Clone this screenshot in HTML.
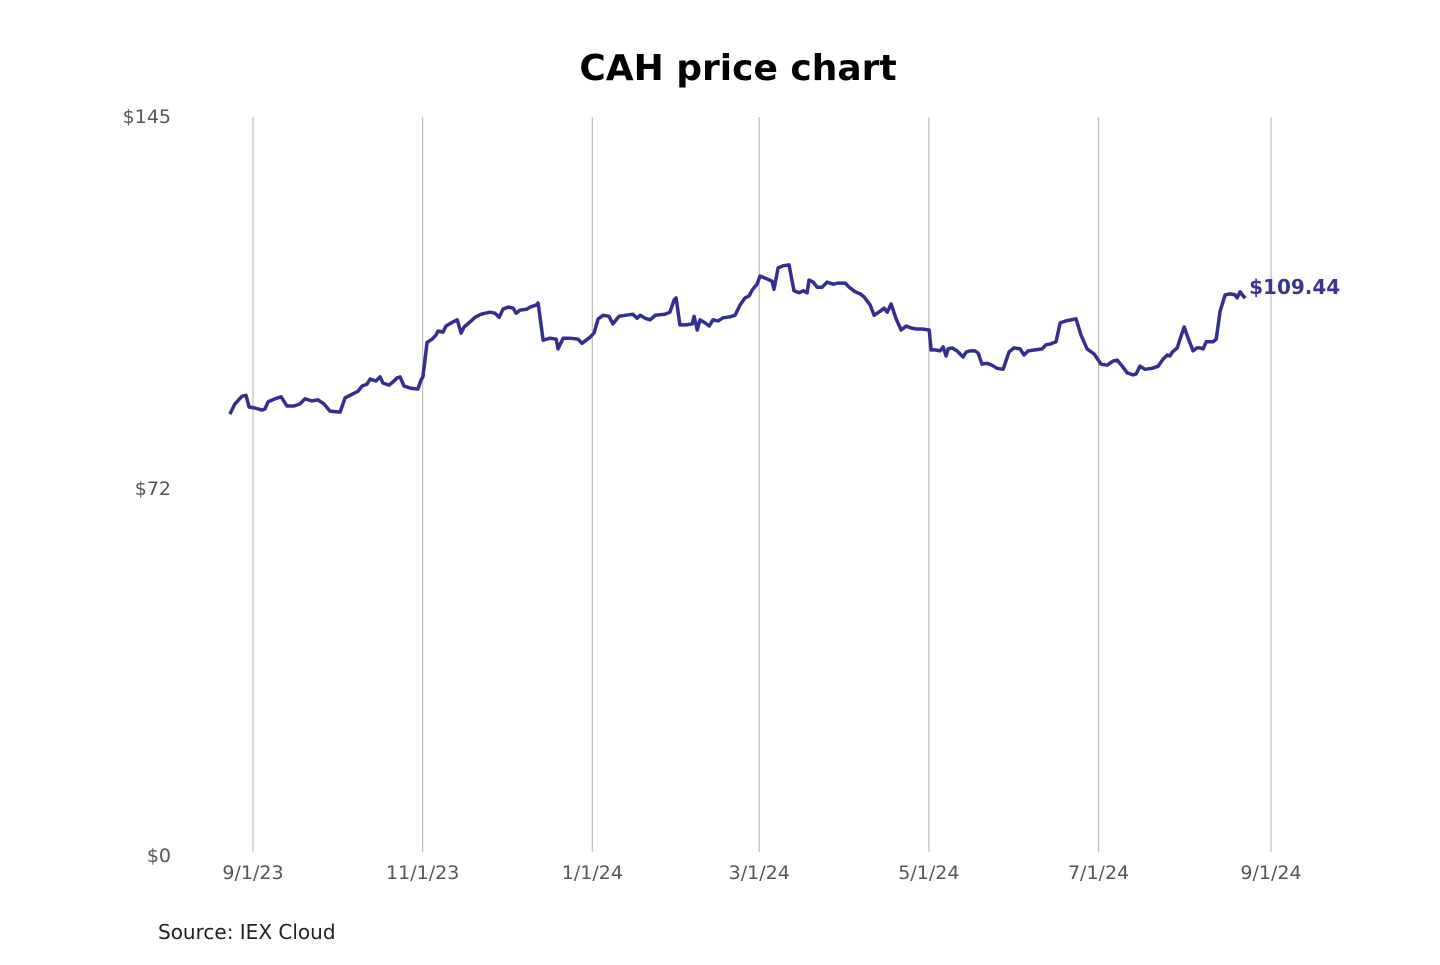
<!DOCTYPE html>
<html><head><meta charset="utf-8"><style>
body{margin:0;background:#fff;font-family:"Liberation Sans","DejaVu Sans",sans-serif;}
svg text{font-family:"DejaVu Sans","Liberation Sans",sans-serif;}
</style></head><body>
<svg id="chart" width="1440" height="960" xmlns="http://www.w3.org/2000/svg">
<text x="738" y="80" text-anchor="middle" font-size="36" font-weight="bold" fill="#000">CAH price chart</text>
<g id="grid"></g>
<g id="yaxis"></g>
<g id="xaxis"></g>
<path id="line" fill="none" stroke="#332f91" stroke-width="3.5" stroke-linejoin="round"/>
<text id="lastlabel" font-size="20" font-weight="bold" fill="#3a358f"></text>
<text x="158" y="939" font-size="20" fill="#222">Source: IEX Cloud</text>
</svg>
<script>
const days=[-8.3,-6.5,-4,-2.5,-1.4,0.7,3.2,4.3,5.4,7.9,10.1,12.2,14.7,16.9,18.7,21.2,23.4,25.5,27.7,31.3,33.1,35.6,37.8,39.2,41,42.1,44.2,45.7,46.7,48.9,50.3,51.8,52.9,54.3,56.5,59.3,60.4,61.1,62.6,64.4,65.8,66.5,68.3,69.4,71.9,73.4,74.8,75.9,78,79.8,82,85.2,87,88.5,89.9,91.7,93.5,94.6,96,98.5,99.6,101.8,102.5,104.3,106.8,109,109.7,111.5,114,116.9,118.3,121.2,122.6,124.1,125.9,128,129.4,131.6,133.8,136.6,138.1,139.2,141,142.8,144.6,148.2,149.9,151.4,152.1,153.5,155.7,157.9,158.6,159.7,160.7,162.5,164,165.4,167.2,169,171.5,173.3,175.1,176.9,178.4,179.4,181.2,182.3,184.1,186.6,187.3,188.8,190.6,192.7,194.5,196.3,197.8,199.2,199.9,201.4,202.8,204.6,206.4,208.6,210.4,212.9,214.3,216.5,218.3,219.7,221.9,223.3,225.5,226.9,228,229.4,231.2,233,234.8,236.6,238.4,240.6,243.1,243.8,245.2,247,248.1,249.2,249.9,251.3,253.1,255.3,256.4,257.8,259.6,260.7,262.1,263.9,265.7,267.5,269.7,271.8,273.6,275.8,277.2,278.7,281.2,283.7,285.1,286.9,288.7,290.2,292.3,295.9,297.7,299.9,302.4,304.9,307.1,309.2,310.7,312.5,314.3,316.4,317.5,318.9,320.7,323.3,325.4,327.2,328.7,329.7,330.5,332.3,333.3,334.8,336.2,338,339.4,340.5,341.6,342.7,345.2,346.3,347.7,349.5,351.3,353.1,353.8,354.9,356,356.7];
const prices=[86.7,88.7,90.2,90.4,88.1,87.9,87.5,87.7,89.1,89.7,90.1,88.3,88.3,88.7,89.7,89.3,89.5,88.7,87.3,87.1,89.9,90.6,91.2,92.2,92.6,93.6,93.2,94.0,92.8,92.4,93.0,93.8,94.0,92.2,91.8,91.6,93.4,94.0,100.8,101.4,102.2,103.0,102.8,104.0,104.8,105.2,102.6,103.8,104.8,105.7,106.3,106.7,106.5,105.7,107.3,107.7,107.5,106.5,107.1,107.3,107.7,108.1,108.5,101.2,101.6,101.4,99.5,101.6,101.6,101.4,100.6,101.8,102.6,105.4,106.1,105.9,104.4,105.9,106.1,106.3,105.5,106.1,105.5,105.2,106.1,106.3,106.7,109.1,109.5,104.2,104.2,104.4,105.9,103.2,105.2,104.6,104.0,105.2,105.0,105.6,105.8,106.1,108.1,109.5,109.9,111.0,112.2,113.8,113.4,112.8,111.2,115.4,115.8,116.0,110.9,110.5,110.9,110.5,113.0,112.6,111.6,111.6,112.6,112.2,112.4,112.4,111.6,110.7,110.3,109.7,108.1,106.1,106.9,107.5,106.7,108.3,105.4,103.2,104.0,103.6,103.4,103.4,103.2,99.3,99.3,99.1,99.9,98.1,99.5,99.7,99.1,97.9,98.9,99.1,99.1,98.7,96.5,96.7,96.3,95.7,95.5,98.9,99.7,99.5,98.3,99.1,99.3,99.5,100.3,100.5,100.9,104.6,105.0,105.4,102.2,99.5,98.5,96.5,96.3,97.1,97.3,96.1,94.8,94.4,94.6,96.1,95.5,95.7,96.1,97.5,98.3,98.1,98.9,99.7,101.4,103.8,101.6,99.1,99.7,99.7,99.5,100.9,100.9,101.4,106.9,110.1,110.3,110.1,109.5,110.7,109.9,109.44];
const yTicks=[0,72,145];
const yTickLabels=["$0","$72","$145"];
const xTickDays=[0,61,122,182,243,304,366];
const xTickLabels=["9/1/23","11/1/23","1/1/24","3/1/24","5/1/24","7/1/24","9/1/24"];
const NS="http://www.w3.org/2000/svg";
const X=d=>253+d*(1018/366);
const Y=p=>856-p*(739/145);
const grid=document.getElementById('grid'),xa=document.getElementById('xaxis'),ya=document.getElementById('yaxis');
xTickDays.forEach((d,i)=>{
  const l=document.createElementNS(NS,'line');
  
  
  l.setAttribute('x1',X(d));l.setAttribute('x2',X(d));l.setAttribute('y1',117);l.setAttribute('y2',852);
  l.setAttribute('stroke','#bdbdbd');l.setAttribute('stroke-width','1.2');
  grid.appendChild(l);
  const t=document.createElementNS(NS,'text');
  
  
  t.setAttribute('x',X(d));t.setAttribute('y',879);t.setAttribute('text-anchor','middle');
  t.setAttribute('font-size','19');t.setAttribute('fill','#555');
  t.textContent=xTickLabels[i];xa.appendChild(t);
});
yTicks.forEach((v,i)=>{
  const t=document.createElementNS(NS,'text');
  
  
  t.setAttribute('x',171);t.setAttribute('y',Y(v)+6);t.setAttribute('text-anchor','end');
  t.setAttribute('font-size','19');t.setAttribute('fill','#555');
  t.textContent=yTickLabels[i];ya.appendChild(t);
});
document.getElementById('line').setAttribute('d',days.map((d,i)=>(i?'L':'M')+X(d).toFixed(1)+' '+Y(prices[i]).toFixed(1)).join(''));
const last=prices.length-1,lb=document.getElementById('lastlabel');
lb.setAttribute('x',X(days[last])+4);lb.setAttribute('y',Y(prices[last])-4);
lb.textContent='$'+prices[last].toFixed(2);
</script>
</body></html>
